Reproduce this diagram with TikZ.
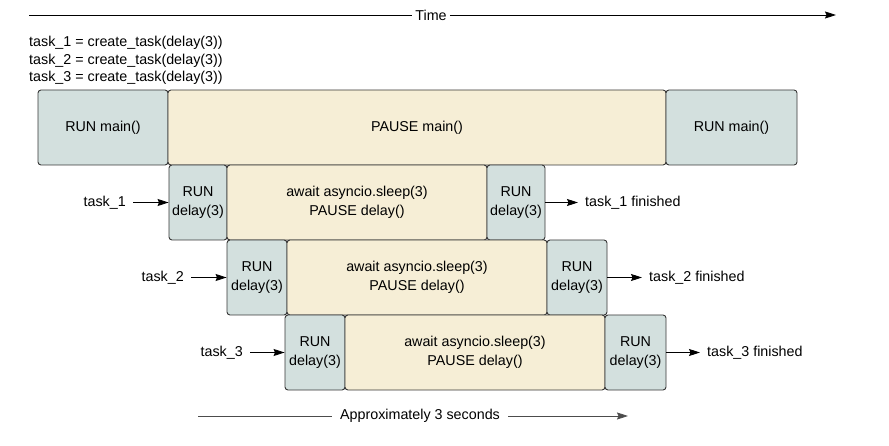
\documentclass[tikz,border=0pt]{standalone}
\usepackage{fontspec}
\setmainfont{Liberation Sans}
\usetikzlibrary{arrows.meta}
\definecolor{runfill}{RGB}{211,224,222}
\definecolor{pausefill}{RGB}{246,238,214}
\definecolor{edge}{RGB}{55,55,55}
\tikzset{
  box/.style={draw=edge, line width=0.9pt, rounded corners=3pt, inner sep=0pt, align=center,
    font=\fontsize{14.3}{18.5}\selectfont},
  runbox/.style={box, fill=runfill},
  pausebox/.style={box, fill=pausefill},
  lbl/.style={inner sep=0pt, inner xsep=7pt, font=\fontsize{14.3}{17}\selectfont},
  code/.style={inner sep=0pt, anchor=west, font=\fontsize{14.3}{17}\selectfont},
  arr/.style={-{Stealth[length=11pt,width=7pt,inset=1.5pt]}, line width=0.8pt},
}
\begin{document}
\begin{tikzpicture}[x=1pt,y=-1pt]
\useasboundingbox (0,0) rectangle (889,446);
% time arrow
\node[lbl, inner xsep=3pt] (time) at (431,15) {Time};
\coordinate (tl) at (29,15);
\coordinate (tr) at (836,15);
\draw[line width=0.8pt] (tl) -- (time);
\draw[arr] (time) -- (tr);
% code
\node[code] (c1) at (29,43) {task\_1 = create\_task(delay(3))};
\node[code] (c2) at (29,60.5) {task\_2 = create\_task(delay(3))};
\node[code] (c3) at (29,78) {task\_3 = create\_task(delay(3))};
% main row
\node[runbox, minimum width=130pt, minimum height=75pt] (m1) at (103,127.5) {RUN main()};
\node[pausebox, minimum width=498pt, minimum height=75pt] (m2) at (417,127.5) {PAUSE main()};
\node[runbox, minimum width=131pt, minimum height=75pt] (m3) at (731.5,127.5) {RUN main()};
% row 1
\node[runbox, minimum width=58pt, minimum height=75pt] (a1) at (198,202.5) {RUN\\delay(3)};
\node[pausebox, minimum width=260pt, minimum height=75pt] (a2) at (357,202.5) {await asyncio.sleep(3)\\PAUSE delay()};
\node[runbox, minimum width=58pt, minimum height=75pt] (a3) at (516,202.5) {RUN\\delay(3)};
% row 2
\node[runbox, minimum width=60pt, minimum height=75pt] (b1) at (257,277.5) {RUN\\delay(3)};
\node[pausebox, minimum width=260pt, minimum height=75pt] (b2) at (417,277.5) {await asyncio.sleep(3)\\PAUSE delay()};
\node[runbox, minimum width=60pt, minimum height=75pt] (b3) at (577,277.5) {RUN\\delay(3)};
% row 3
\node[runbox, minimum width=60pt, minimum height=75pt] (d1) at (315,352.5) {RUN\\delay(3)};
\node[pausebox, minimum width=260pt, minimum height=75pt] (d2) at (475,352.5) {await asyncio.sleep(3)\\PAUSE delay()};
\node[runbox, minimum width=61pt, minimum height=75pt] (d3) at (635.5,352.5) {RUN\\delay(3)};
% task labels
\node[lbl, anchor=east] (t1) at (133,202.5) {task\_1};
\node[lbl, anchor=east] (t2) at (191,277.5) {task\_2};
\node[lbl, anchor=east] (t3) at (250,352.5) {task\_3};
\draw[arr] (t1) -- (a1);
\draw[arr] (t2) -- (b1);
\draw[arr] (t3) -- (d1);
\node[lbl, anchor=west] (f1) at (578,202.5) {task\_1 finished};
\node[lbl, anchor=west] (f2) at (642,277.5) {task\_2 finished};
\node[lbl, anchor=west] (f3) at (700,352.5) {task\_3 finished};
\draw[arr] (a3) -- (f1);
\draw[arr] (b3) -- (f2);
\draw[arr] (d3) -- (f3);
% bottom
\node[lbl, inner xsep=8pt] (approx) at (420,416) {Approximately 3 seconds};
\coordinate (bl) at (198,416);
\coordinate (br) at (628,416);
\draw[line width=0.8pt, black!70] (bl) -- (approx);
\draw[arr, black!70] (approx) -- (br);
\end{tikzpicture}
\end{document}
